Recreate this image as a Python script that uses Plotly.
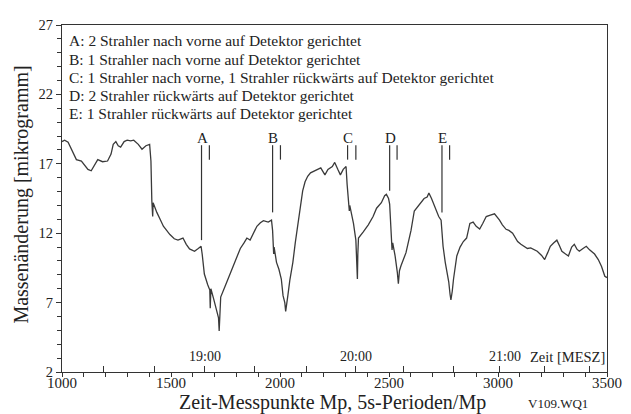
import plotly.graph_objects as go

# ---- data ----
mp = [1000, 1012, 1028, 1045, 1066, 1089, 1105, 1119, 1134, 1150, 1164, 1186, 1209, 1225, 1235, 1247,
      1258, 1269, 1285, 1299, 1315, 1329, 1350, 1367, 1385, 1402, 1408, 1412, 1416, 1418, 1420, 1435,
      1450, 1465, 1480, 1495, 1515, 1532, 1555, 1570, 1585, 1608, 1625, 1638, 1643, 1653, 1668, 1678,
      1680, 1683, 1695, 1710, 1718, 1721, 1724, 1728, 1750, 1770, 1788, 1805, 1818, 1835, 1848, 1863,
      1880, 1894, 1910, 1924, 1946, 1961, 1966, 1969, 1971, 1973, 1984, 1995, 2006, 2014, 2022, 2026,
      2030, 2036, 2045, 2059, 2070, 2082, 2093, 2104, 2115, 2127, 2140, 2157, 2170, 2187, 2206, 2220,
      2240, 2251, 2265, 2277, 2290, 2303, 2308, 2315, 2318, 2320, 2337, 2348, 2353, 2355, 2357, 2360,
      2382, 2405, 2427, 2443, 2465, 2480, 2488, 2498, 2503, 2510, 2514, 2517, 2528, 2538, 2543, 2548,
      2555, 2578, 2590, 2601, 2616, 2638, 2661, 2675, 2683, 2695, 2706, 2728, 2739, 2748, 2758, 2774,
      2780, 2784, 2790, 2796, 2811, 2826, 2841, 2856, 2871, 2886, 2900, 2916, 2930, 2946, 2965, 2984,
      3007, 3020, 3037, 3050, 3067, 3090, 3105, 3120, 3135, 3150, 3165, 3180, 3200, 3214, 3228, 3240,
      3255, 3270, 3282, 3293, 3310, 3323, 3338, 3350, 3362, 3373, 3390, 3405, 3420, 3443, 3460, 3475,
      3490, 3500]
mass = [18.6, 18.7, 18.55, 18.0, 17.3, 17.2, 16.9, 16.6, 16.5, 16.9, 17.3, 17.15, 17.2, 17.7, 18.4, 18.6,
        18.3, 18.2, 18.6, 18.7, 18.65, 18.7, 18.4, 18.05, 18.3, 18.4, 17.2, 14.35, 13.2, 14.2, 14.1, 13.5,
        13.0, 12.5, 12.2, 11.9, 11.6, 11.5, 11.65, 11.2, 10.87, 10.7, 10.9, 11.06, 10.5, 9.06, 8.3, 7.9,
        6.6, 8.0, 7.3, 6.37, 5.9, 4.96, 6.0, 7.4, 8.25, 9.0, 9.65, 10.3, 10.9, 11.3, 11.65, 11.5,
        12.1, 12.5, 12.75, 12.9, 12.8, 12.94, 12.2, 11.06, 10.5, 11.0, 9.9, 9.4, 8.7, 7.5, 7.0, 6.37,
        7.0, 7.5, 8.6, 9.9, 11.3, 12.7, 14.0, 15.05, 15.7, 16.1, 16.35, 16.46, 16.6, 16.7, 16.2, 16.6,
        16.8, 17.1, 16.6, 16.2, 16.6, 16.8, 15.5, 14.35, 13.6, 14.0, 12.7, 11.5, 10.0, 8.7, 10.5, 11.65,
        12.1, 12.6, 13.2, 13.8, 14.2, 14.7, 14.8, 14.5, 14.1, 12.0, 10.8, 11.3, 10.36, 9.2, 8.36, 9.3,
        9.65, 10.6, 11.4, 12.2, 13.6, 14.0, 14.5, 14.6, 14.9, 14.5, 14.1, 13.2, 12.94, 11.06, 9.9, 8.5,
        7.6, 7.2, 7.8, 8.7, 10.36, 11.0, 11.4, 11.65, 12.7, 12.8, 12.5, 12.3, 12.7, 13.2, 13.3, 13.4,
        12.94, 12.6, 12.28, 12.2, 12.0, 11.4, 11.2, 11.06, 10.9, 10.94, 10.8, 10.7, 10.4, 10.1, 10.6, 11.06,
        11.3, 11.5, 11.1, 10.7, 10.5, 10.36, 11.0, 11.2, 10.85, 10.7, 10.9, 11.06, 10.8, 10.5, 10.1, 9.6,
        8.9, 8.8]

x_tickvals = [1000, 1500, 2000, 2500, 3000, 3500]
y_tickvals = [2, 7, 12, 17, 22, 27]

time_ticks = [1190, 1425, 1652, 1882, 2121, 2348, 2567, 2794, 3005, 3215, 3420]
time_labels = ["19:00", "20:00", "21:00"]
time_label_x = [1658, 2350, 3030]

event_labels = ["A", "B", "C", "D", "E"]
event_x = [1640, 1966, 2310, 2503, 2743]
event_x2 = [1676, 2002, 2348, 2537, 2778]
event_line_end = [11.5, 13.5, 17.3, 15.05, 13.5]
event_top = 18.34
event_short_end = 17.3

legend_lines = [
    "A: 2 Strahler nach vorne auf Detektor gerichtet",
    "B: 1 Strahler nach vorne auf Detektor gerichtet",
    "C: 1 Strahler nach vorne, 1 Strahler rückwärts auf Detektor gerichtet",
    "D: 2 Strahler rückwärts auf Detektor gerichtet",
    "E: 1 Strahler rückwärts auf Detektor gerichtet",
]
legend_y = [25.85, 24.5, 23.2, 21.95, 20.65]

FONT = "Liberation Serif"
INK = "#222222"

fig = go.Figure()
fig.add_trace(go.Scatter(x=mp, y=mass, mode="lines",
                         line=dict(color="#3a3a3a", width=1.3), showlegend=False, hoverinfo="skip"))
# invisible trace for time-tick axis
fig.add_trace(go.Scatter(x=[1000, 3500], y=[2, 2], xaxis="x2", mode="lines",
                         line=dict(width=0), showlegend=False, hoverinfo="skip"))

shapes = []
for xv, x2v, yend in zip(event_x, event_x2, event_line_end):
    shapes.append(dict(type="line", xref="x", yref="y", x0=xv, x1=xv, y0=event_top, y1=yend,
                       line=dict(color="#333333", width=1.2)))
    shapes.append(dict(type="line", xref="x", yref="y", x0=x2v, x1=x2v, y0=event_top, y1=event_short_end,
                       line=dict(color="#333333", width=1.2)))

annotations = []
for lab, xv in zip(event_labels, event_x):
    annotations.append(dict(x=xv + 3, y=18.85, xref="x", yref="y", text=lab, showarrow=False,
                            xanchor="center", yanchor="middle",
                            font=dict(family=FONT, size=15, color=INK)))
for txt, yv in zip(legend_lines, legend_y):
    annotations.append(dict(x=1025, y=yv, xref="x", yref="y", text=txt, showarrow=False,
                            xanchor="left", yanchor="middle", font=dict(family=FONT, size=15.5, color=INK)))
for txt, xv in zip(time_labels, time_label_x):
    annotations.append(dict(x=xv, y=3.1, xref="x", yref="y", text=txt, showarrow=False,
                            xanchor="center", yanchor="middle",
                            font=dict(family=FONT, size=14, color=INK)))
annotations.append(dict(x=3500, y=3.1, xref="x", yref="y", text="Zeit [MESZ]", showarrow=False,
                        xanchor="right", yanchor="middle", font=dict(family=FONT, size=14.5, color=INK)))
annotations.append(dict(x=-0.076, y=0.51, xref="paper", yref="paper", text="Massenänderung [mikrogramm]",
                        textangle=-90, showarrow=False, xanchor="center", yanchor="middle",
                        font=dict(family=FONT, size=20, color=INK)))
annotations.append(dict(x=0.497, y=-0.087, xref="paper", yref="paper",
                        text="Zeit-Messpunkte Mp, 5s-Perioden/Mp", showarrow=False,
                        xanchor="center", yanchor="middle",
                        font=dict(family=FONT, size=20, color=INK)))
annotations.append(dict(x=0.911, y=-0.092, xref="paper", yref="paper", text="V109.WQ1", showarrow=False,
                        xanchor="center", yanchor="middle",
                        font=dict(family=FONT, size=13, color=INK)))

# the page body has an 8px default margin, so the figure is 8px smaller each way
fig.update_layout(
    width=623, height=406,
    margin=dict(l=54, r=17, t=9, b=42),
    paper_bgcolor="white", plot_bgcolor="white",
    showlegend=False,
    shapes=shapes, annotations=annotations,
    xaxis=dict(range=[1000, 3500], tickvals=x_tickvals, ticks="outside", ticklen=4, tickwidth=1.2,
               tickcolor="#333", showline=True, linecolor="#333", linewidth=1.3, mirror=True,
               showgrid=False, zeroline=False, ticklabelstandoff=-7,
               minor=dict(dtick=100, tick0=1000, ticks="outside", ticklen=4, tickcolor="#333", showgrid=False),
               tickfont=dict(family=FONT, size=15, color=INK)),
    xaxis2=dict(range=[1000, 3500], overlaying="x", side="bottom", anchor="y", tickvals=time_ticks,
                ticks="inside", ticklen=6, tickwidth=1.2, tickcolor="#333", showticklabels=False,
                showline=False, showgrid=False, zeroline=False),
    yaxis=dict(range=[2, 27], tickvals=y_tickvals, ticks="outside", ticklen=5, tickwidth=1.2,
               tickcolor="#333", showline=True, linecolor="#333", linewidth=1.3, mirror=True,
               showgrid=False, zeroline=False,
               minor=dict(dtick=1, tick0=2, ticks="outside", ticklen=4, tickcolor="#333", showgrid=False),
               tickfont=dict(family=FONT, size=14.5, color=INK)),
)

fig.write_html("out.html")
